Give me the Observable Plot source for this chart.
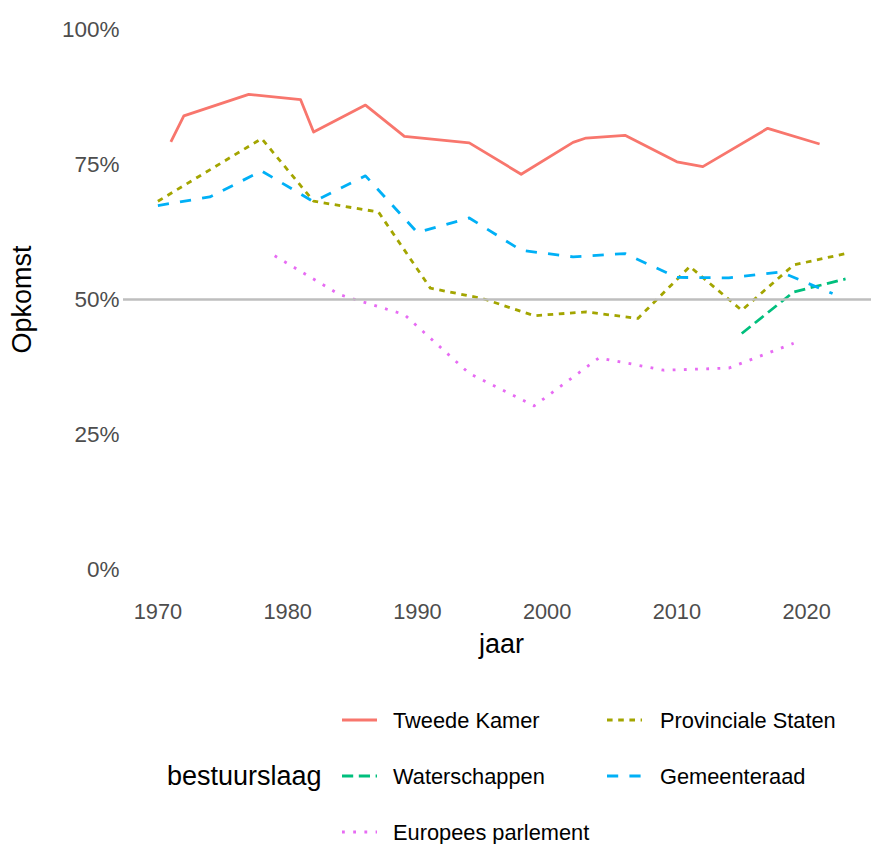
<!DOCTYPE html>
<html><head><meta charset="utf-8">
<script src="https://cdn.jsdelivr.net/npm/d3@7"></script>
<script src="https://cdn.jsdelivr.net/npm/@observablehq/plot@0.6"></script>
<style>
html,body{margin:0;padding:0;background:#fff;overflow:hidden;}
#chart svg,#legend svg{display:block;}
</style></head><body><div id="chart"></div><div id="legend"></div><script>
// Categories (legend order)
const series = ["Tweede Kamer", "Provinciale Staten", "Waterschappen", "Gemeenteraad", "Europees parlement"];
const legendTitle = "bestuurslaag";

// Series values (turnout in %)
const tkYears  = [1971, 1972, 1977, 1981, 1982, 1986, 1989, 1994, 1998, 2002, 2003, 2006, 2010, 2012, 2017, 2021];
const tkValues = [79.2, 84.0, 88.0, 87.0, 81.0, 86.0, 80.2, 79.0, 73.2, 79.1, 79.9, 80.4, 75.5, 74.6, 81.7, 78.8];

const psYears  = [1970, 1974, 1978, 1982, 1987, 1991, 1995, 1999, 2003, 2007, 2011, 2015, 2019, 2023];
const psValues = [68.2, 74.0, 79.8, 68.2, 66.2, 52.1, 50.2, 47.0, 47.7, 46.5, 56.1, 48.0, 56.4, 58.5];

const wsYears  = [2015, 2019, 2023];
const wsValues = [43.7, 51.4, 53.8];

const grYears  = [1970, 1974, 1978, 1982, 1986, 1990, 1994, 1998, 2002, 2006, 2010, 2014, 2018, 2022];
const grValues = [67.4, 69.0, 73.8, 68.1, 72.9, 62.4, 65.1, 59.1, 57.9, 58.5, 54.1, 54.0, 55.1, 51.1];

const epYears  = [1979, 1984, 1989, 1994, 1999, 2004, 2009, 2014, 2019];
const epValues = [58.1, 50.9, 47.2, 36.3, 30.3, 39.2, 36.9, 37.3, 41.9];

// Tick labels
const xTicks = [1970, 1980, 1990, 2000, 2010, 2020];
const yTicks = [0, 25, 50, 75, 100];
const referenceLine = [50];

// Styles (scale ranges)
const colors = ["#F8766D", "#A3A500", "#00BF7D", "#00B0F6", "#E76BF3"];
const dashes = [null, "5.6,5.6", "11.2,5.6", "11.2,11.2", "2.8,8.4"];

const rows = [];
function add(name, years, values) {
  years.forEach((y, i) => rows.push({bestuurslaag: name, jaar: y, opkomst: values[i]}));
}
add(series[0], tkYears, tkValues);
add(series[1], psYears, psValues);
add(series[2], wsYears, wsValues);
add(series[3], grYears, grValues);
add(series[4], epYears, epValues);

const FONT = "'Liberation Sans', Arial, Helvetica, sans-serif";

const lineMarks = series.map((s, i) => Plot.line(rows.filter(r => r.bestuurslaag === s), {
  x: "jaar", y: "opkomst", stroke: "bestuurslaag",
  strokeWidth: 2.8, strokeLinecap: "butt", strokeLinejoin: "round",
  ...(dashes[i] ? {strokeDasharray: dashes[i]} : {})
}));

const plot = Plot.plot({
  width: 871, height: 670,
  marginLeft: 123, marginRight: 0, marginTop: 2, marginBottom: 74,
  style: {fontFamily: FONT, fontSize: "21.8px", background: "#fff", overflow: "visible"},
  x: {domain: [1967.35, 2025.0]},
  y: {domain: [-5, 105]},
  color: {domain: series, range: colors},
  marks: [
    Plot.axisX({ticks: xTicks, tickFormat: d => String(d), tickSize: 0, tickPadding: 7, label: null, color: "#4d4d4d"}),
    Plot.axisY({ticks: yTicks, tickFormat: d => d + "%", tickSize: 0, tickPadding: 4, label: null, color: "#4d4d4d", fontSize: 22.5}),
    ...lineMarks,
    Plot.ruleY(referenceLine, {stroke: "#bebebe", strokeWidth: 2.6}),
    Plot.text(["jaar"], {frameAnchor: "bottom", text: d => d, dy: 56, dx: 4, lineAnchor: "bottom", fontSize: 27, fill: "black"}),
    Plot.text(["Opkomst"], {frameAnchor: "left", text: d => d, dx: -101, rotate: -90, textAnchor: "middle", fontSize: 27, fill: "black"})
  ]
});
document.getElementById("chart").appendChild(plot);

// Legend (below the plot)
const colorScale = plot.scale("color");
const colorOf = name => colorScale.range[colorScale.domain.indexOf(name)];
const lg = d3.select("#legend").append("svg")
  .attr("width", 871).attr("height", 174)
  .style("font-family", FONT);
const rowY = [50, 106, 162];
const swatchX = [342, 607];
const textX = [393, 660];
lg.append("text").attr("x", 167).attr("y", rowY[1]).attr("dy", "0.35em")
  .attr("font-size", 27).attr("fill", "black").text(legendTitle);
series.forEach((s, i) => {
  const col = i % 2, row = Math.floor(i / 2);
  const y = rowY[row];
  const ln = lg.append("line")
    .attr("x1", swatchX[col]).attr("x2", swatchX[col] + 35)
    .attr("y1", y).attr("y2", y)
    .attr("stroke", colorOf(s)).attr("stroke-width", 2.8).attr("stroke-linecap", "butt");
  if (dashes[i]) ln.attr("stroke-dasharray", dashes[i]);
  lg.append("text").attr("x", textX[col]).attr("y", y).attr("dy", "0.35em")
    .attr("font-size", 21.8).attr("fill", "black").text(s);
});
</script></body></html>
